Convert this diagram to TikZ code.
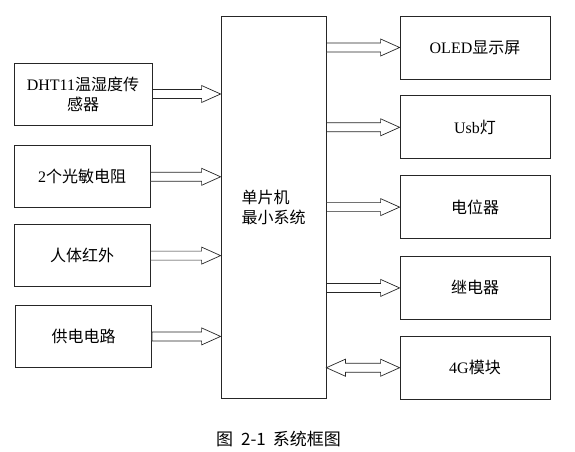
\documentclass[tikz,border=0pt]{standalone}
\usepackage{fontspec}
\setmainfont{Liberation Serif}
\newfontfamily\lat{Liberation Serif}
\newfontfamily\cjk{Noto Sans CJK SC}
\usetikzlibrary{positioning, calc}
\tikzset{
  inbox/.style  = {rectangle, draw=black!85, line width=0.8pt, minimum width=136pt,
                   minimum height=62pt, align=center, inner sep=2pt,
                   font=\lat\fontsize{16}{20}\selectfont},
  outbox/.style = {rectangle, draw=black!85, line width=0.8pt, minimum width=150pt,
                   minimum height=63pt, align=center,
                   font=\lat\fontsize{16}{20}\selectfont},
  mcubox/.style = {rectangle, draw=black!85, line width=0.8pt, minimum width=105pt,
                   minimum height=382pt, align=left,
                   font=\lat\fontsize{16}{20}\selectfont},
  barr/.style   = {draw=black!85, line width=0.7pt, fill=white, line join=miter},
  captext/.style = {font=\cjk\fontsize{17}{20}\selectfont},
}
% hollow block arrows between two points on one level
\newcommand{\fatarrow}[2]{%
  \draw[barr] let \p1=(#1), \p2=(#2) in
    (\x1,\y1+4.5) -- (\x2-19,\y1+4.5) -- (\x2-19,\y1+8.5) -- (\x2,\y1)
    -- (\x2-19,\y1-8.5) -- (\x2-19,\y1-4.5) -- (\x1,\y1-4.5) -- cycle;}
\newcommand{\fatdarrow}[2]{%
  \draw[barr] let \p1=(#1), \p2=(#2) in
    (\x1,\y1) -- (\x1+19,\y1+8.5) -- (\x1+19,\y1+4.5) -- (\x2-19,\y1+4.5)
    -- (\x2-19,\y1+8.5) -- (\x2,\y1) -- (\x2-19,\y1-8.5) -- (\x2-19,\y1-4.5)
    -- (\x1+19,\y1-4.5) -- (\x1+19,\y1-8.5) -- cycle;}

\begin{document}
\begin{tikzpicture}[x=1pt, y=-1pt]
  \useasboundingbox (0,0) rectangle (575,451);

  \node[mcubox] (mcu) at (273.5,207) {{\cjk 单片机}\\{\cjk 最小系统}};

  \node[inbox, minimum width=138pt] (dht) at (83,94) {DHT11{\cjk 温湿度传}\\{\cjk 感器}};
  \node[inbox, below=20pt of dht.south west, anchor=north west] (ldr) {2{\cjk 个光敏电阻}};
  \node[inbox, below=16pt of ldr]   (pir)   {\cjk 人体红外};
  \node[inbox, below=18pt of pir, xshift=1.5pt] (power) {\cjk 供电电路};

  \node[outbox] (oled) at (475,47.5) {OLED{\cjk 显示屏}};
  \node[outbox, below=16pt of oled] (usb)   {Usb{\cjk 灯}};
  \node[outbox, below=16pt of usb]  (pot)   {\cjk 电位器};
  \node[outbox, below=17pt of pot]  (relay) {\cjk 继电器};
  \node[outbox, below=16pt of relay] (lte)  {4G{\cjk 模块}};

  \fatarrow{dht.east}{mcu.west |- dht.east}
  \fatarrow{ldr.east}{mcu.west |- ldr.east}
  \fatarrow{pir.east}{mcu.west |- pir.east}
  \fatarrow{power.east}{mcu.west |- power.east}

  \fatarrow{mcu.east |- oled.west}{oled.west}
  \fatarrow{mcu.east |- usb.west}{usb.west}
  \fatarrow{mcu.east |- pot.west}{pot.west}
  \fatarrow{mcu.east |- relay.west}{relay.west}
  \fatdarrow{mcu.east |- lte.west}{lte.west}

  \node[captext] (caption) at (278.5,439) {图\hspace{8pt}2-1\hspace{7pt}系统框图};
\end{tikzpicture}
\end{document}
